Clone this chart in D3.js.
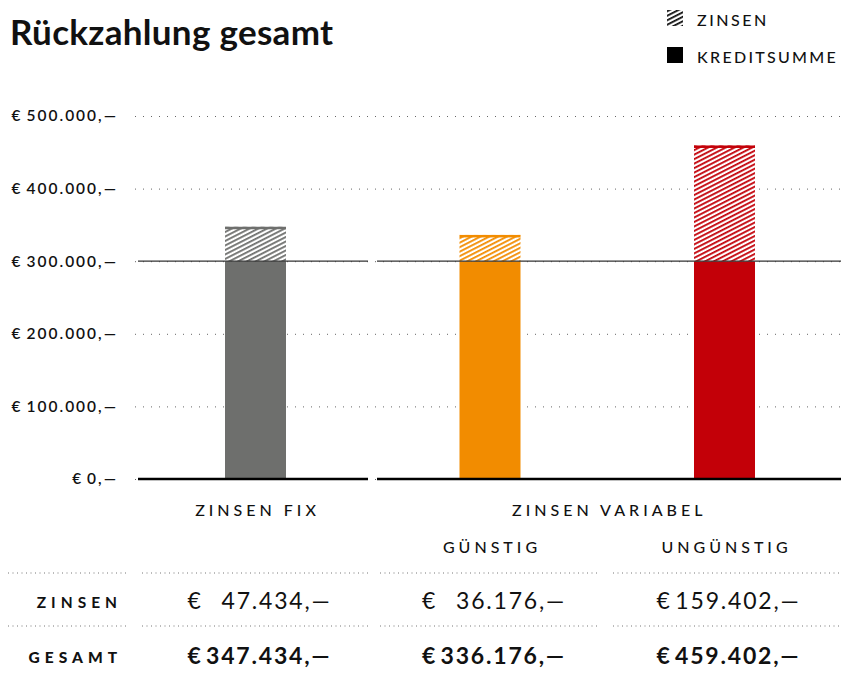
<!DOCTYPE html>
<html>
<head>
<meta charset="utf-8">
<script src="https://cdn.jsdelivr.net/npm/d3@7"></script>
<style>
  body { margin: 0; background: #fff; }
  text { font-family: Lato, "Open Sans", sans-serif; fill: #111; }
</style>
</head>
<body>
<script>
var categories = ["fix", "guenstig", "unguenstig"];
var kreditsumme = [300000, 300000, 300000];
var zinsen = [47434, 36176, 159402];
var gesamt = [347434, 336176, 459402];
var barColors = ["#6e6f6d", "#f28c00", "#c30008"];
var yTicks = [0, 100000, 200000, 300000, 400000, 500000];
var subLabels = ["", "GÜNSTIG", "UNGÜNSTIG"];

var width = 841, height = 675;

let fmt = (v) => d3.format(",")(v).replace(/,/g, ".");

let svg = d3.select("body").append("svg")
    .attr("width", width)
    .attr("height", height);

let xScale = d3.scalePoint()
    .domain(categories)
    .range([255.5, 724.5]);

let yScale = d3.scaleLinear()
    .domain([0, 500000])
    .range([479, 116]);

let barW = 61;

// hatch patterns
let defs = svg.append("defs");
barColors.concat(["#111"]).forEach((c, i) => {
    let p = defs.append("pattern")
        .attr("id", "hatch" + i)
        .attr("patternUnits", "userSpaceOnUse")
        .attr("width", 10)
        .attr("height", 4)
        .attr("patternTransform", "rotate(-27)");
    p.append("rect").attr("width", 10).attr("height", 4).attr("fill", "#fff");
    p.append("rect").attr("width", 10).attr("height", 1.8).attr("fill", c);
});

// title
svg.append("text")
    .attr("x", 10)
    .attr("y", 45)
    .attr("font-size", 35)
    .attr("font-weight", 700)
    .attr("letter-spacing", 0.3)
    .text("Rückzahlung gesamt");

// legend
svg.append("rect").attr("x", 667).attr("y", 10).attr("width", 16).attr("height", 16)
    .attr("fill", "url(#hatch3)");
svg.append("text").attr("x", 697).attr("y", 26).attr("font-size", 16)
    .attr("font-weight", 500).attr("letter-spacing", 2.5).text("ZINSEN");
svg.append("rect").attr("x", 667).attr("y", 47).attr("width", 16).attr("height", 16)
    .attr("fill", "#000");
svg.append("text").attr("x", 697).attr("y", 63).attr("font-size", 16)
    .attr("font-weight", 500).attr("letter-spacing", 2.3).text("KREDITSUMME");

// y axis with dotted gridlines
let yAxis = d3.axisLeft(yScale)
    .tickValues(yTicks)
    .tickSize(-(width - 135))
    .tickPadding(17)
    .tickFormat((d) => "€\u2009" + fmt(d) + ",—");

let gy = svg.append("g")
    .attr("transform", "translate(135,0)")
    .call(yAxis);
gy.select(".domain").remove();
gy.selectAll(".tick line")
    .attr("stroke", "#666")
    .attr("stroke-dasharray", "1,7");
gy.selectAll(".tick text")
    .attr("font-family", "Lato, sans-serif")
    .attr("font-size", 15.5)
    .attr("font-weight", 600)
    .attr("letter-spacing", 2)
    .attr("fill", "#111");

// bars: kreditsumme
svg.selectAll(".kredit")
    .data(categories)
    .enter()
    .append("rect")
    .attr("x", (d) => xScale(d) - barW / 2)
    .attr("y", (d, i) => yScale(kreditsumme[i]))
    .attr("width", barW)
    .attr("height", (d, i) => yScale(0) - yScale(kreditsumme[i]))
    .attr("fill", (d, i) => barColors[i]);

// bars: zinsen (hatched)
svg.selectAll(".zins")
    .data(categories)
    .enter()
    .append("rect")
    .attr("x", (d) => xScale(d) - barW / 2)
    .attr("y", (d, i) => yScale(kreditsumme[i] + zinsen[i]))
    .attr("width", barW)
    .attr("height", (d, i) => yScale(kreditsumme[i]) - yScale(kreditsumme[i] + zinsen[i]))
    .attr("fill", (d, i) => "url(#hatch" + i + ")");

svg.selectAll(".zinstop")
    .data(categories)
    .enter()
    .append("rect")
    .attr("x", (d) => xScale(d) - barW / 2)
    .attr("y", (d, i) => yScale(kreditsumme[i] + zinsen[i]))
    .attr("width", barW)
    .attr("height", 2.5)
    .attr("fill", (d, i) => barColors[i]);

// base lines, split between fix and variabel
let segments = [[138, 368], [377, width]];
segments.forEach((s) => {
    svg.append("line")
        .attr("x1", s[0]).attr("x2", s[1])
        .attr("y1", yScale(300000)).attr("y2", yScale(300000))
        .attr("stroke", "#333").attr("stroke-width", 1.2);
    svg.append("line")
        .attr("x1", s[0]).attr("x2", s[1])
        .attr("y1", yScale(0)).attr("y2", yScale(0))
        .attr("stroke", "#000").attr("stroke-width", 2.5);
});

// category labels
svg.append("text")
    .attr("x", xScale("fix") + 2).attr("y", 516)
    .attr("text-anchor", "middle").attr("font-size", 16)
    .attr("font-weight", 500).attr("letter-spacing", 4)
    .text("ZINSEN FIX");
svg.append("text")
    .attr("x", (xScale("guenstig") + xScale("unguenstig")) / 2 + 2).attr("y", 516)
    .attr("text-anchor", "middle").attr("font-size", 16)
    .attr("font-weight", 500).attr("letter-spacing", 4)
    .text("ZINSEN VARIABEL");
svg.selectAll(".sub")
    .data(categories)
    .enter()
    .append("text")
    .attr("x", (d) => xScale(d) + 2).attr("y", 553)
    .attr("text-anchor", "middle").attr("font-size", 16)
    .attr("font-weight", 500).attr("letter-spacing", 4)
    .text((d, i) => subLabels[i]);

// table dotted rules
let tableSegs = [[8, 127], [142, 368], [380, 597], [613, width]];
[573, 626].forEach((yy) => {
    tableSegs.forEach((s) => {
        svg.append("line")
            .attr("x1", s[0]).attr("x2", s[1])
            .attr("y1", yy).attr("y2", yy)
            .attr("stroke", "#777")
            .attr("stroke-dasharray", "1,3.5");
    });
});

// table rows
let rows = [
    { label: "ZINSEN", values: zinsen, weight: 400, labelWeight: 700, y: 609 },
    { label: "GESAMT", values: gesamt, weight: 700, labelWeight: 900, y: 664 }
];
rows.forEach((r) => {
    svg.append("text")
        .attr("x", 122).attr("y", r.y - 1)
        .attr("text-anchor", "end").attr("font-size", 15.5)
        .attr("font-weight", r.labelWeight).attr("letter-spacing", 5)
        .text(r.label);
    categories.forEach((c, i) => {
        svg.append("text")
            .attr("x", xScale(c) - 68).attr("y", r.y)
            .attr("font-size", 23).attr("font-weight", r.weight)
            .text("€");
        svg.append("text")
            .attr("x", xScale(c) + 76).attr("y", r.y)
            .attr("text-anchor", "end")
            .attr("font-size", 23).attr("font-weight", r.weight)
            .attr("letter-spacing", 1.8)
            .text(fmt(r.values[i]) + ",—");
    });
});
</script>
</body>
</html>
